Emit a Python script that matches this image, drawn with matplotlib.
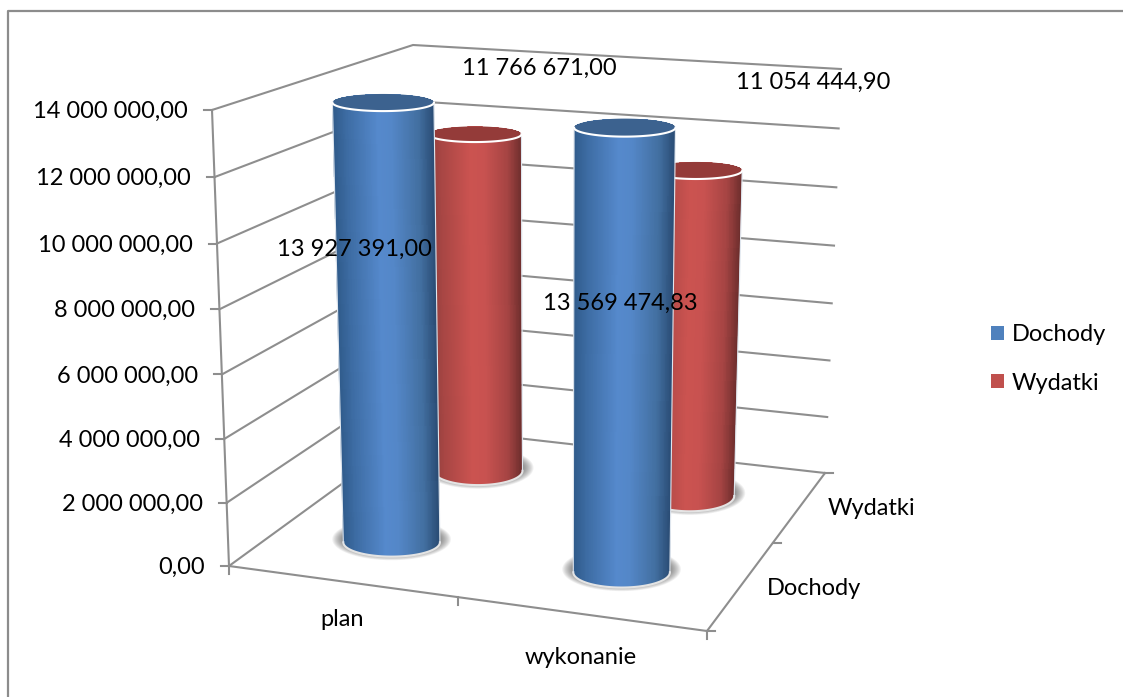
import numpy as np
import matplotlib
matplotlib.use("Agg")
import matplotlib.pyplot as plt
from matplotlib.colors import LinearSegmentedColormap
from matplotlib.patches import Patch, Polygon

plt.rcParams['font.family'] = ['Lato', 'DejaVu Sans']

# ---- data ----
categories = ["plan", "wykonanie"]
series = ["Dochody", "Wydatki"]
dochody = [13927391.00, 13569474.83]
wydatki = [11766671.00, 11054444.90]
value_labels_doch = ["13 927 391,00", "13 569 474,83"]
value_labels_wyd = ["11 766 671,00", "11 054 444,90"]
value_ticks = [0, 2e6, 4e6, 6e6, 8e6, 10e6, 12e6, 14e6]
value_tick_labels = ["0,00", "2 000 000,00", "4 000 000,00", "6 000 000,00",
                     "8 000 000,00", "10 000 000,00", "12 000 000,00", "14 000 000,00"]

# ---- layout: box corners in pixels (front/back, left/right) ----
W, H = 1123, 697
ZMAX = 14e6
FLOOR = {"fl": (229, 566), "fr": (707, 631), "bl": (420, 427), "br": (825, 473)}
CEIL = {"fl": (212, 110), "fr": (714, 136), "bl": (413, 45), "br": (841, 69)}
PERSP = 0.035   # slight foreshortening of the value axis
BASE_Z = 130000  # cylinders stand a little behind the floor reference


def proj(c, s, value):
    """Category position c (0..2), series position s (0..2), value -> pixels."""
    c, s, value = [np.asarray(a, float) for a in (c, s, value)]
    u, v, t = c / 2, s / 2, value / ZMAX
    t = t - PERSP * t * (1 - t)
    out = []
    for i in (0, 1):
        low = ((1 - u) * (1 - v) * FLOOR["fl"][i] + u * (1 - v) * FLOOR["fr"][i]
               + (1 - u) * v * FLOOR["bl"][i] + u * v * FLOOR["br"][i])
        high = ((1 - u) * (1 - v) * CEIL["fl"][i] + u * (1 - v) * CEIL["fr"][i]
                + (1 - u) * v * CEIL["bl"][i] + u * v * CEIL["br"][i])
        out.append(low + (high - low) * t)
    return out[0], out[1]


def hull(pts):
    pts = sorted(set(map(tuple, np.round(pts, 3))))

    def half(seq):
        out = []
        for p in seq:
            while len(out) > 1 and ((out[-1][0] - out[-2][0]) * (p[1] - out[-2][1])
                                    - (out[-1][1] - out[-2][1]) * (p[0] - out[-2][0])) <= 0:
                out.pop()
            out.append(p)
        return out[:-1]
    return np.array(half(pts) + half(pts[::-1]))


fig = plt.figure(figsize=(W / 100, H / 100), dpi=100, facecolor="white")
ax = fig.add_axes([0, 0, 1, 1])
ax.set_xlim(0, W)
ax.set_ylim(H, 0)
ax.axis("off")

FS = 17.0
GRID = "#8e8e8e"
LW = 1.5
TXT_DY = 1.5

# outer frame
ax.plot([W, 7.5, 7.5], [10.5, 10.5, H], color="#8c8c8c", lw=1.6, zorder=1)

for v, lab in zip(value_ticks, value_tick_labels):
    xs, ys = proj([0, 0, 2], [0, 2, 2], [v, v, v])
    ax.plot(xs, ys, color=GRID, lw=LW, zorder=2, solid_joinstyle="miter")
    ax.plot([xs[0] - 8, xs[0]], [ys[0], ys[0]], color=GRID, lw=LW, zorder=2)
    ax.text(xs[0] - 24, ys[0] + TXT_DY, lab, ha="right", va="center", fontsize=FS, color="black", zorder=20)

# vertical axis, floor edges, ticks
xs, ys = proj([0, 0], [0, 0], [0, ZMAX])
ax.plot(xs, ys, color=GRID, lw=LW, zorder=2)
xs, ys = proj([0, 2, 2], [0, 0, 2], [0, 0, 0])
ax.plot(xs, ys, color=GRID, lw=LW, zorder=2, solid_joinstyle="miter")
for c in [0.0, 0.96, 2.0]:
    x0, y0 = proj(c, 0, 0)
    ax.plot([x0, x0], [y0, y0 + 8], color=GRID, lw=LW, zorder=2)
for s in [0.0, 1.12, 2.0]:
    x0, y0 = proj(2, s, 0)
    ax.plot([x0, x0 + 8], [y0, y0], color=GRID, lw=LW, zorder=2)

blue_cmap = LinearSegmentedColormap.from_list("b", [(0, "#2f5a8a"), (0.14, "#3d6ca3"), (0.45, "#5589cc"),
                                                    (0.58, "#5487c8"), (0.85, "#426fa0"), (1, "#2a4c75")])
red_cmap = LinearSegmentedColormap.from_list("r", [(0, "#8f3d3c"), (0.14, "#a84644"), (0.45, "#cb5350"),
                                                   (0.6, "#c85250"), (0.85, "#a54443"), (1, "#6e2e2d")])
RX, RY = 0.21, 0.2
theta = np.linspace(0, 2 * np.pi, 241)


def ellipse(c, s, value, ry):
    cx, cy = proj(c, s, value)
    a = RX * (proj(c + 0.5, s, value)[0] - proj(c - 0.5, s, value)[0])
    b = ry * (proj(c, s - 0.5, value)[1] - proj(c, s + 0.5, value)[1])
    return cx, cy, a, b


def cylinder(c, s, value, cmap, top_color, top_ry, z):
    bcx, bcy, ba, bb = ellipse(c, s, BASE_Z, RY)
    tcx, tcy, ta, tb = ellipse(c, s, value, top_ry)
    bx, by = bcx + ba * np.cos(theta), bcy + bb * np.sin(theta)
    tx, ty = tcx + ta * np.cos(theta), tcy + tb * np.sin(theta)
    # soft floor shadow
    for k in np.arange(11, 0, -1.0):
        ax.add_patch(Polygon(np.c_[bcx + (ba + k) * np.cos(theta),
                                   bcy - 3 + (bb + k * 0.6) * np.sin(theta)],
                             closed=True, fc="#484848", ec="none", alpha=0.075, zorder=z))
    outline = hull(np.r_[np.c_[bx, by], np.c_[tx, ty]])
    body = Polygon(outline, closed=True, fc="none", ec="none", zorder=z + 1)
    ax.add_patch(body)
    # shading mesh between the left and right silhouettes
    t = np.linspace(0, 1, 121)
    ytop, ybot = tcy - tb - 2, bcy + bb + 2
    X = np.vstack([tcx - ta + 2 * ta * t, bcx - ba + 2 * ba * t])
    Y = np.vstack([np.full_like(t, ytop), np.full_like(t, ybot)])
    mesh = ax.pcolormesh(X, Y, ((t[:-1] + t[1:]) / 2)[None, :], cmap=cmap, vmin=0, vmax=1,
                         shading="flat", zorder=z + 1, antialiased=False, rasterized=True)
    mesh.set_clip_path(body)
    # light rim
    low = np.sin(theta) >= 0
    ax.plot(np.sort(bx[low]), by[low][np.argsort(bx[low])], color="#e4e4e4", lw=1.5, zorder=z + 2)
    ax.plot([tcx - ta, bcx - ba], [tcy, bcy], color="#dfe6ee", lw=0.8, zorder=z + 2)
    ax.plot([tcx + ta, bcx + ba], [tcy, bcy], color="#dfe6ee", lw=0.8, zorder=z + 2)
    # top
    ax.add_patch(Polygon(np.c_[tx, ty], closed=True, fc=top_color, ec="none", zorder=z + 3))
    front = np.sin(theta) >= 0
    ax.plot(np.sort(tx[front]), ty[front][np.argsort(tx[front])], color="white", lw=1.5, zorder=z + 4)


cat_pos = [0.5, 1.5]
ser_pos = [0.5, 1.5]
for c, v in zip(cat_pos, wydatki):
    cylinder(c, ser_pos[1], v, red_cmap, "#943b39", 0.2, 5)
for c, v in zip(cat_pos, dochody):
    cylinder(c, ser_pos[0], v, blue_cmap, "#3c628f", 0.26, 10)

# text labels
data_label_xy = [(354, 249.5), (620, 303.5), (539, 68.5), (813, 82)]
for (lx, ly), lab in zip(data_label_xy, value_labels_doch + value_labels_wyd):
    ax.text(lx, ly, lab, ha="center", va="center", fontsize=FS, color="black", zorder=20)
for (lx, ly), lab in zip([(342, 620), (581, 657)], categories):
    ax.text(lx, ly, lab, ha="center", va="center", fontsize=FS, color="black", zorder=20)
for (lx, ly), lab in zip([(814, 588.5), (871, 508.5)], series):
    ax.text(lx, ly, lab, ha="center", va="center", fontsize=FS, color="black", zorder=20)

handles = [Patch(fc="#4f81bd", ec="none", label=series[0]), Patch(fc="#c0504d", ec="none", label=series[1])]
ax.legend(handles=handles, loc="center left", bbox_to_anchor=(984 / W, 1 - 359 / H), frameon=False,
          fontsize=FS, handlelength=0.55, handleheight=0.55, handletextpad=0.34, labelspacing=1.16,
          borderpad=0.3, borderaxespad=0)

fig.savefig("out.png", dpi=100, facecolor="white")
